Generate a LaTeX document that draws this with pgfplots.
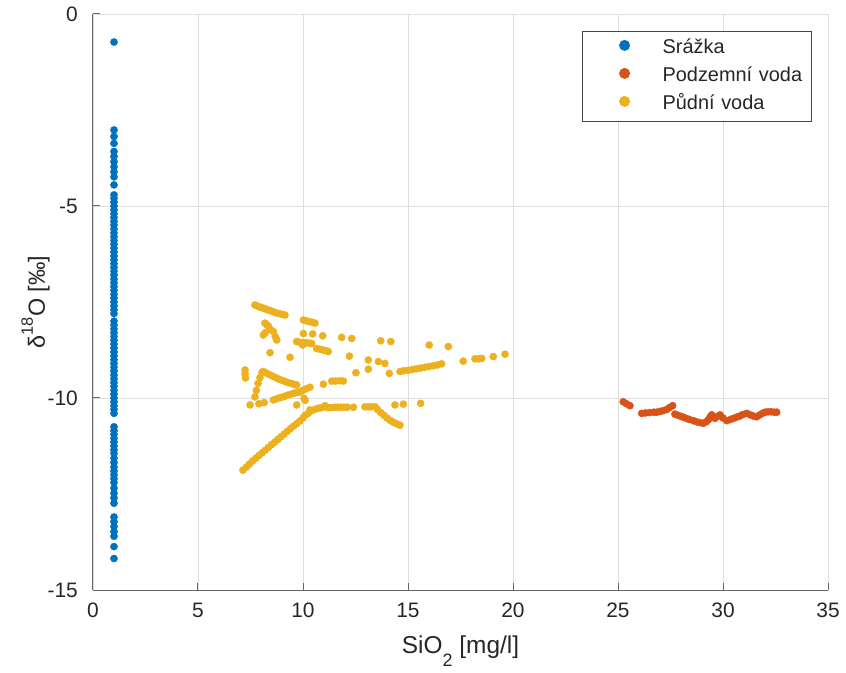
\documentclass[border=0pt]{standalone}
\usepackage{fontspec}
\setmainfont{Liberation Sans}
\usepackage{pgfplots}
\pgfplotsset{compat=1.18}

\definecolor{cSrazka}{RGB}{0,114,189}
\definecolor{cPodzemni}{RGB}{217,83,25}
\definecolor{cPudni}{RGB}{237,177,32}
\definecolor{axgray}{RGB}{38,38,38}
\definecolor{boxgray}{RGB}{70,70,70}

\begin{document}
\begin{tikzpicture}
\begin{axis}[
  scale only axis,
  width=735bp, height=576bp,
  xmin=0, xmax=35, ymin=-15, ymax=0,
  enlargelimits=false,
  axis lines*=left,
  axis line style={-, draw=black!60, line width=1bp},
  tick align=inside,
  xtick pos=bottom, ytick pos=left,
  major tick length=7bp,
  tick style={draw=black!60, line width=1bp},
  xtick={0,5,10,15,20,25,30,35},
  xticklabels={0,5,10,15,20,25,30,35},
  ytick={-15,-10,-5,0},
  yticklabels={-15,-10,-5,0},
  grid=major,
  grid style={draw=black!13, line width=0.9bp},
  xticklabel style={font=\fontsize{21}{25}\selectfont, text=axgray, inner sep=0pt, anchor=north, yshift=-13bp},
  yticklabel style={font=\fontsize{21}{25}\selectfont, text=axgray, inner sep=0pt, anchor=east, xshift=-15bp},
  xlabel={SiO\raisebox{-12.5bp}{\fontsize{18}{18}\selectfont 2} [mg/l]},
  ylabel={δ\raisebox{12bp}{\fontsize{16.5}{16.5}\selectfont 18}O [‰]},
  xlabel style={font=\fontsize{24.5}{28}\selectfont, text=axgray, at={(axis description cs:0.5,-0.1111)}, anchor=base},
  ylabel style={font=\fontsize{23.5}{28}\selectfont, text=axgray, at={(axis description cs:-0.0653,0.5)}, anchor=base, rotate=0},
  legend style={
    at={(axis description cs:0.9782,0.9705)}, anchor=north east,
    draw=boxgray, line width=0.8bp, fill=white,
    inner xsep=0pt, inner ysep=8bp,
    row sep=10bp, column sep=0pt,
    font=\fontsize{20}{24}\selectfont,
    nodes={inner sep=0pt, text height=14bp, text depth=4bp, text width=149bp, align=left, text=axgray},
  },
  legend cell align=left,
  legend image code/.code={\path[draw=none, fill=none] (0bp,-2bp) rectangle (80bp,2bp); \fill[draw=none] (42bp,3bp) circle (5.5bp);},
  every axis plot/.append style={only marks, mark=*, mark size=3.6bp},
]

% precipitation
\addplot[cSrazka, mark options={draw=none, fill=cSrazka}] table[row sep=\\] {
x y \\
1 -0.73 \\ 1 -3.02 \\ 1 -3.19 \\ 1 -3.37 \\ 1 -3.58 \\ 1 -3.71 \\ 1 -3.85 \\ 1 -3.98 \\
1 -4.11 \\ 1 -4.24 \\ 1 -4.45 \\ 1 -4.71 \\ 1 -4.80 \\ 1 -4.90 \\ 1 -5.00 \\ 1 -5.10 \\
1 -5.20 \\ 1 -5.30 \\ 1 -5.40 \\ 1 -5.50 \\ 1 -5.60 \\ 1 -5.70 \\ 1 -5.80 \\ 1 -5.90 \\
1 -6.00 \\ 1 -6.10 \\ 1 -6.20 \\ 1 -6.30 \\ 1 -6.40 \\ 1 -6.50 \\ 1 -6.60 \\ 1 -6.70 \\
1 -6.80 \\ 1 -6.90 \\ 1 -7.00 \\ 1 -7.10 \\ 1 -7.20 \\ 1 -7.30 \\ 1 -7.40 \\ 1 -7.50 \\
1 -7.60 \\ 1 -7.70 \\ 1 -7.80 \\ 1 -8.00 \\ 1 -8.10 \\ 1 -8.20 \\ 1 -8.30 \\ 1 -8.40 \\
1 -8.50 \\ 1 -8.60 \\ 1 -8.70 \\ 1 -8.80 \\ 1 -8.90 \\ 1 -9.00 \\ 1 -9.10 \\ 1 -9.20 \\
1 -9.30 \\ 1 -9.40 \\ 1 -9.50 \\ 1 -9.60 \\ 1 -9.70 \\ 1 -9.80 \\ 1 -9.90 \\ 1 -10.00 \\
1 -10.10 \\ 1 -10.20 \\ 1 -10.30 \\ 1 -10.40 \\ 1 -10.75 \\ 1 -10.85 \\ 1 -10.95 \\ 1 -11.05 \\
1 -11.15 \\ 1 -11.25 \\ 1 -11.35 \\ 1 -11.44 \\ 1 -11.57 \\ 1 -11.68 \\ 1 -11.80 \\ 1 -11.90 \\
1 -12.00 \\ 1 -12.10 \\ 1 -12.20 \\ 1 -12.35 \\ 1 -12.48 \\ 1 -12.60 \\ 1 -12.74 \\ 1 -13.10 \\
1 -13.22 \\ 1 -13.35 \\ 1 -13.48 \\ 1 -13.60 \\ 1 -13.87 \\ 1 -14.18 \\
};
\addlegendentry{Srážka}

% groundwater
\addplot[cPodzemni, mark options={draw=none, fill=cPodzemni}] table[row sep=\\] {
x y \\
25.25 -10.10 \\ 25.40 -10.15 \\ 25.57 -10.20 \\ 26.13 -10.40 \\ 26.30 -10.39 \\ 26.50 -10.38 \\
26.70 -10.37 \\ 26.84 -10.37 \\ 27.00 -10.35 \\ 27.15 -10.33 \\ 27.32 -10.30 \\ 27.45 -10.25 \\
27.60 -10.20 \\ 27.71 -10.42 \\ 27.85 -10.45 \\ 28.00 -10.48 \\ 28.11 -10.50 \\ 28.25 -10.53 \\
28.40 -10.56 \\ 28.59 -10.59 \\ 28.75 -10.62 \\ 28.90 -10.64 \\ 29.06 -10.66 \\ 29.20 -10.62 \\
29.30 -10.57 \\ 29.38 -10.50 \\ 29.46 -10.44 \\ 29.55 -10.50 \\ 29.62 -10.53 \\ 29.75 -10.48 \\
29.86 -10.44 \\ 30.00 -10.52 \\ 30.18 -10.59 \\ 30.35 -10.56 \\ 30.50 -10.53 \\ 30.65 -10.50 \\
30.80 -10.47 \\ 30.95 -10.43 \\ 31.13 -10.40 \\ 31.30 -10.44 \\ 31.45 -10.47 \\ 31.60 -10.49 \\
31.75 -10.44 \\ 31.88 -10.40 \\ 32.00 -10.37 \\ 32.15 -10.36 \\ 32.30 -10.36 \\ 32.45 -10.37 \\
32.56 -10.37 \\
};
\addlegendentry{Podzemní voda}

% soil water
\addplot[cPudni, mark options={draw=none, fill=cPudni}] table[row sep=\\] {
x y \\
7.71 -7.58 \\ 7.82 -7.60 \\ 7.93 -7.63 \\ 8.05 -7.65 \\ 8.17 -7.67 \\ 8.30 -7.70 \\
8.43 -7.72 \\ 8.56 -7.75 \\ 8.70 -7.78 \\ 8.85 -7.80 \\ 9.00 -7.82 \\ 9.14 -7.84 \\
8.19 -8.05 \\ 8.27 -8.09 \\ 8.35 -8.13 \\ 8.11 -8.36 \\ 8.20 -8.30 \\ 8.45 -8.22 \\
8.59 -8.27 \\ 8.68 -8.40 \\ 8.75 -8.49 \\ 8.43 -8.82 \\ 9.38 -8.94 \\
7.24 -9.27 \\ 7.24 -9.37 \\ 7.26 -9.48 \\
7.71 -9.97 \\ 7.78 -9.80 \\ 7.86 -9.62 \\ 7.95 -9.47 \\ 8.05 -9.33 \\ 8.11 -9.31 \\
8.25 -9.35 \\ 8.40 -9.39 \\ 8.55 -9.43 \\ 8.70 -9.47 \\ 8.85 -9.51 \\ 9.00 -9.54 \\
9.15 -9.57 \\ 9.30 -9.60 \\ 9.45 -9.62 \\ 9.60 -9.65 \\ 9.70 -9.66 \\
7.48 -10.18 \\ 7.90 -10.15 \\ 8.15 -10.12 \\ 8.59 -10.05 \\ 8.75 -10.02 \\ 8.90 -9.99 \\
9.05 -9.97 \\ 9.20 -9.94 \\ 9.35 -9.91 \\ 9.50 -9.89 \\ 9.62 -9.87 \\ 9.78 -9.85 \\
9.86 -9.84 \\ 10.00 -9.80 \\ 10.15 -9.76 \\ 10.33 -9.72 \\
9.70 -10.18 \\ 10.05 -10.01 \\ 10.10 -10.06 \\ 10.33 -10.31 \\
7.14 -11.88 \\ 7.30 -11.80 \\ 7.45 -11.72 \\ 7.60 -11.64 \\ 7.75 -11.57 \\ 7.90 -11.50 \\
8.05 -11.43 \\ 8.20 -11.36 \\ 8.35 -11.29 \\ 8.50 -11.22 \\ 8.65 -11.15 \\ 8.80 -11.08 \\
8.95 -11.01 \\ 9.10 -10.94 \\ 9.25 -10.87 \\ 9.40 -10.80 \\ 9.55 -10.73 \\ 9.70 -10.67 \\
9.85 -10.60 \\ 10.00 -10.52 \\ 10.10 -10.45 \\ 10.25 -10.40 \\ 10.40 -10.33 \\
10.55 -10.30 \\ 10.70 -10.27 \\ 10.81 -10.26 \\ 10.95 -10.24 \\ 11.05 -10.20 \\ 11.20 -10.25 \\
11.35 -10.25 \\ 11.50 -10.24 \\ 11.65 -10.24 \\ 11.80 -10.24 \\ 11.95 -10.24 \\ 12.10 -10.24 \\
12.40 -10.24 \\ 12.95 -10.23 \\ 13.10 -10.23 \\ 13.25 -10.23 \\ 13.43 -10.23 \\
13.55 -10.30 \\ 13.70 -10.38 \\ 13.85 -10.45 \\ 14.00 -10.52 \\ 14.15 -10.58 \\ 14.30 -10.63 \\
14.45 -10.67 \\ 14.62 -10.71 \\ 14.38 -10.18 \\ 14.78 -10.16 \\ 15.60 -10.14 \\
10.97 -9.64 \\ 11.37 -9.56 \\ 11.55 -9.56 \\ 11.75 -9.55 \\ 11.92 -9.56 \\ 12.52 -9.34 \\
13.11 -9.25 \\ 13.11 -9.01 \\ 13.59 -9.05 \\ 13.90 -9.10 \\ 14.11 -9.36 \\
14.62 -9.31 \\ 14.80 -9.29 \\ 15.00 -9.28 \\ 15.20 -9.26 \\ 15.40 -9.24 \\ 15.60 -9.22 \\
15.80 -9.20 \\ 16.00 -9.18 \\ 16.20 -9.16 \\ 16.40 -9.14 \\ 16.60 -9.11 \\ 17.63 -9.04 \\
18.19 -8.98 \\ 18.35 -8.98 \\ 18.51 -8.97 \\ 19.06 -8.92 \\ 19.62 -8.86 \\
10.02 -7.97 \\ 10.15 -7.99 \\ 10.30 -8.01 \\ 10.45 -8.03 \\ 10.57 -8.05 \\
10.02 -8.32 \\ 10.46 -8.33 \\ 10.94 -8.38 \\ 11.84 -8.42 \\ 12.32 -8.45 \\ 13.70 -8.51 \\
14.18 -8.53 \\ 16.01 -8.62 \\ 16.92 -8.66 \\
9.70 -8.53 \\ 9.85 -8.55 \\ 10.00 -8.56 \\ 10.15 -8.56 \\ 10.30 -8.57 \\ 10.41 -8.58 \\
9.98 -8.62 \\ 10.65 -8.71 \\ 10.80 -8.73 \\ 10.95 -8.75 \\ 11.10 -8.77 \\ 11.20 -8.79 \\
12.21 -8.91 \\
};
\addlegendentry{Půdní voda}

\end{axis}
\pgfresetboundingbox
\path[use as bounding box] ([shift={(-93bp,-83bp)}]current axis.south west) rectangle ([shift={(18bp,14bp)}]current axis.north east);
\end{tikzpicture}
\end{document}
